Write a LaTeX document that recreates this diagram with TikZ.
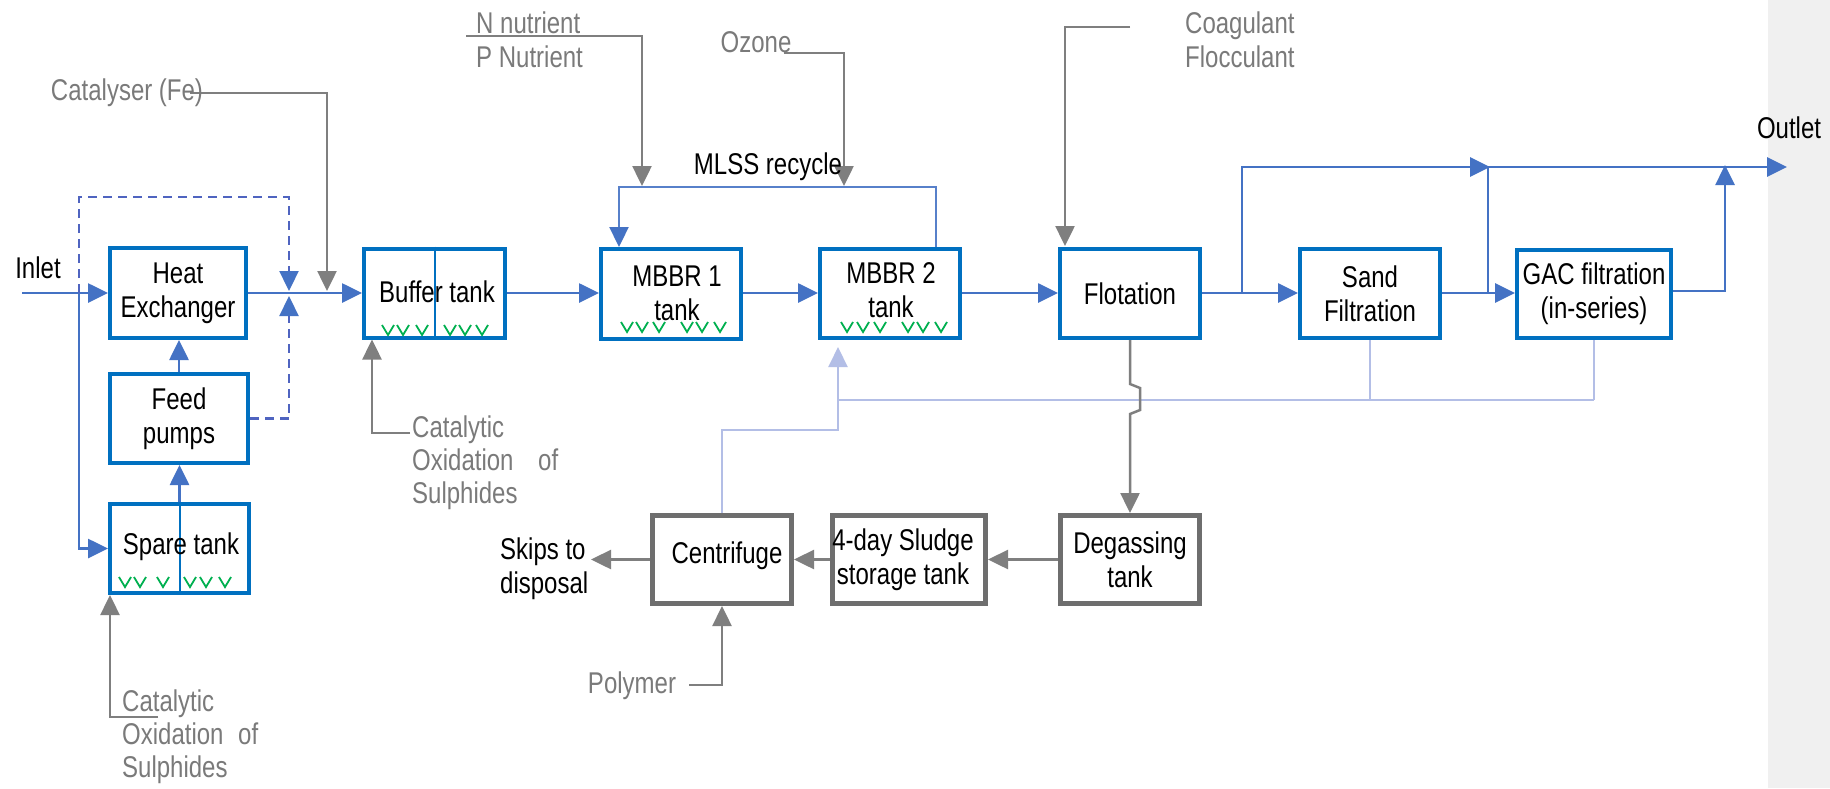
\documentclass[tikz,border=0pt]{standalone}
\usepackage{fontspec}
\setmainfont{Liberation Sans}[FakeStretch=0.80]
\usetikzlibrary{arrows.meta,calc}

\definecolor{boxblue}{HTML}{0070C0}
\definecolor{flowblue}{HTML}{4472C4}
\definecolor{dashblue}{HTML}{4F64C0}
\definecolor{boxgray}{HTML}{6E6E6E}
\definecolor{linegray}{HTML}{7F7F7F}
\definecolor{textgray}{HTML}{7A7A7A}
\definecolor{lightline}{HTML}{B3BEE6}
\definecolor{checkgreen}{HTML}{00B050}
\definecolor{bandgray}{HTML}{F0F0F0}

\newcommand\labfont{\fontsize{30}{34}\selectfont}
\newcommand\notefont{\fontsize{30}{33}\selectfont}

\begin{document}
\begin{tikzpicture}[x=1pt,y=-1pt,
  bluebox/.style={draw=boxblue, line width=4pt, fill=white, inner sep=0pt, align=center, font=\labfont},
  graybox/.style={draw=boxgray, line width=5pt, fill=white, inner sep=0pt, align=center, font=\labfont},
  flow/.style={draw=flowblue, line width=2.7pt},
  mlss/.style={draw=flowblue!90!white, line width=2.3pt},
  dashflow/.style={draw=dashblue, line width=2.3pt, dash pattern=on 9pt off 6pt},
  grayline/.style={draw=linegray, line width=2.5pt},
  lightflow/.style={draw=lightline, line width=2.1pt},
  bluetip/.style={-{Triangle[length=20pt,width=19pt,fill=flowblue,color=flowblue]}},
  dashtip/.style={-{Triangle[length=20pt,width=19pt,fill=flowblue,color=flowblue]}},
  graytip/.style={-{Triangle[length=20pt,width=19pt,fill=linegray,color=linegray]}},
  lighttip/.style={-{Triangle[length=20pt,width=19pt,fill=lightline,color=lightline]}},
  blacklab/.style={inner sep=0pt, font=\labfont, align=left, text=black},
  graylab/.style={inner sep=0pt, font=\labfont, align=left, text=textgray},
  notelab/.style={inner sep=0pt, font=\notefont, align=left, text=textgray},
  check/.style={draw=checkgreen, line width=1.8pt, line join=miter}
]
% canvas and side band
\fill[white] (0,0) rectangle (1830,788);
\fill[bandgray] (1768,0) rectangle (1830,788);
\useasboundingbox (0,0) rectangle (1830,788);

% ---- process units, main water line ----
\node[bluebox, minimum width=136, minimum height=90] (he) at (178,293) {Heat\\Exchanger};
\node[bluebox, minimum width=138, minimum height=89] (feed) at (179,418.5) {Feed\\pumps};
\node[bluebox, minimum width=139, minimum height=89] (spare) at (179.5,548.5) {};
\node[bluebox, minimum width=141, minimum height=89] (buffer) at (434.5,293) {};
\node[bluebox, minimum width=140, minimum height=90] (mbbr1) at (671,294) {};
\node[bluebox, minimum width=140, minimum height=89] (mbbr2) at (890,293.5) {};
\node[bluebox, minimum width=140, minimum height=89] (flot) at (1130,293.5) {Flotation};
\node[bluebox, minimum width=140, minimum height=89] (sand) at (1370,293.5) {Sand\\Filtration};
\node[bluebox, minimum width=154, minimum height=88] (gac) at (1594,294) {GAC filtration\\(in-series)};

% ---- sludge line ----
\node[graybox, minimum width=139, minimum height=88] (degas) at (1130,559.5) {Degassing\\tank};
\node[graybox, minimum width=153, minimum height=88] (sludge) at (909,559.5) {};
\node[graybox, minimum width=139, minimum height=88] (cent) at (722,559.5) {};

% tank dividers
\draw[boxblue, line width=2pt] (spare.north) -- (spare.south);
\draw[boxblue, line width=2pt] (buffer.north) -- (buffer.south);

% labels inside the divided / offset boxes
\node[blacklab] (sparelab) at (181,547) {Spare tank};
\node[blacklab] (bufferlab) at (437,292) {Buffer tank};
\node[blacklab, align=center] (m1lab) at (677,293) {MBBR 1\\tank};
\node[blacklab, align=center] (m2lab) at (891,290) {MBBR 2\\tank};
\node[blacklab, align=center] (centlab) at (727,556) {Centrifuge};
\node[blacklab, align=center] (sludgelab) at (903,560) {4-day Sludge\\storage tank};

% media carriers
\foreach \x/\y in {125/582,140/582,163/582,190/582,206/582,225/582,
                   388/330,403/330,422/330,450/330,465/330,482/330,
                   627/327,642/327,659/327,687/327,702/327,720/327,
                   847/327,863/327,880/327,908/327,923/327,941/327}
  \draw[check] ({\x-6},{\y-5}) -- (\x,{\y+5}) -- ({\x+6},{\y-5});

% ---- free ends and junctions ----
\coordinate (inl) at (22,293);
\coordinate (jin) at (79,293);
\coordinate (dtop) at (79,197);
\coordinate (jd) at (289,291);
\coordinate (ju) at (289,296);
\coordinate (cat0) at (190,93);
\coordinate (cat1) at (327,291);
\coordinate (nu0) at (466,36);
\coordinate (nu1) at (642,186);
\coordinate (oz0) at (784,53);
\coordinate (oz1) at (844,186);
\coordinate (co0) at (1130,27);
\coordinate (co1) at (1065,246);
\coordinate (r1) at (936,187);
\coordinate (r2) at (619,187);
\coordinate (b1) at (1242,293);
\coordinate (b2) at (1490,167);
\coordinate (s1) at (1488,293);
\coordinate (s2) at (1488,167);
\coordinate (outl) at (1787,167);
\coordinate (g1) at (1725,165);
\coordinate (bc0) at (410,433);
\coordinate (bcx) at (372,433);
\coordinate (sc0) at (158,717);
\coordinate (scx) at (110,717);
\coordinate (sk) at (591,559.5);
\coordinate (po0) at (689,685);
\coordinate (l1) at (722,430);
\coordinate (l2) at (838,430);
\coordinate (l3) at (838,347);
\coordinate (lh) at (838,400);

% ---- sludge return (light) ----
\draw[lightflow] (lh) -- (lh -| gac.south);
\draw[lightflow] (sand.south) -- (sand.south |- lh);
\draw[lightflow] (gac.south) -- (gac.south |- lh);
\draw[lightflow, lighttip] (cent.north) -- (l1) -- (l2) -- (l3);

% ---- main water line ----
\draw[flow, bluetip] (inl) -- (he.west);
\draw[flow, bluetip] (jin) |- (spare.west);
\draw[dashflow, dashtip] (jin) -- (dtop) -| (jd);
\draw[dashflow, dashtip] (feed.east) -| (ju);
\draw[flow, bluetip] (spare.north) -- (spare.north |- feed.south);
\draw[flow, bluetip] (feed.north) -- (feed.north |- he.south);
\draw[flow, bluetip] (he.east) -- (buffer.west);
\draw[flow, bluetip] (buffer.east) -- (mbbr1.west |- buffer.east);
\draw[flow, bluetip] (mbbr1.east |- buffer.east) -- (mbbr2.west |- buffer.east);
\draw[flow, bluetip] (mbbr2.east |- buffer.east) -- (flot.west |- buffer.east);
\draw[flow, bluetip] (flot.east |- buffer.east) -- (sand.west |- buffer.east);
\draw[flow, bluetip] (sand.east |- buffer.east) -- (gac.west |- buffer.east);
\draw[flow, bluetip] (b1) |- (b2);
\draw[flow] (s1) -- (s2);
\draw[flow, bluetip] (s2) -- (outl);
\draw[flow, bluetip] ($(gac.east)+(0,-3)$) -| (g1);
\draw[mlss, bluetip] (mbbr2.north -| r1) -- (r1) -- (r2) -- (r2 |- mbbr1.north);

% ---- dosing lines ----
\draw[grayline, graytip] (cat0) -| (cat1);
\draw[grayline, graytip] (nu0) -| (nu1);
\draw[grayline, graytip] (oz0) -| (oz1);
\draw[grayline, graytip] (co0) -| (co1);
\draw[grayline, graytip] (bc0) -- (bcx) -- (bcx |- buffer.south);
\draw[grayline, graytip] (sc0) -- (scx) -- (scx |- spare.south);
\draw[grayline, graytip] (po0) -| (cent.south);

% ---- sludge line connectors ----
\draw[grayline, graytip] (flot.south) -- ++(0,44) -- ++(10,4) -- ++(0,22) -- ++(-10,4) -- (degas.north);
\draw[grayline, graytip] (degas.west) -- (sludge.east);
\draw[grayline, graytip] (sludge.west) -- (cent.east);
\draw[grayline, graytip] (cent.west) -- (sk);

% ---- free text ----
\node[blacklab] (inlettxt) at (38,268) {Inlet};
\node[graylab] (catlab) at (127,93) {Catalyser (Fe)};
\node[graylab, anchor=west] (nutlab) at (476,40) {N nutrient\\P Nutrient};
\node[graylab] (ozlab) at (756,42) {Ozone};
\node[blacklab] (mlsslab) at (768,167) {MLSS recycle};
\node[graylab, anchor=west] (coaglab) at (1185,40) {Coagulant\\Flocculant};
\node[blacklab] (outlab) at (1789,128) {Outlet};
\node[notelab, anchor=west] (bcat) at (412,463)
  {Catalytic\\\makebox[146pt][l]{Oxidation\hfill of}\\Sulphides};
\node[notelab, anchor=west] (scat) at (122,737)
  {Catalytic\\\makebox[136pt][l]{Oxidation\hfill of}\\Sulphides};
\node[blacklab, anchor=west] (skips) at (500,568.5) {Skips to\\disposal};
\node[graylab] (polylab) at (632,686) {Polymer};
\end{tikzpicture}
\end{document}
